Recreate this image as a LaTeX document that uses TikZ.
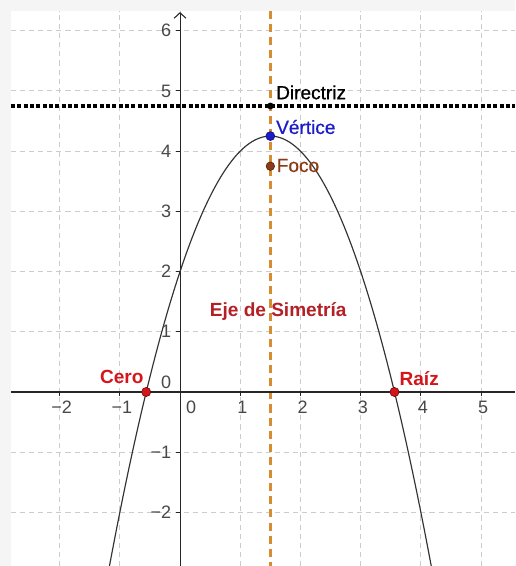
\documentclass[tikz,border=0pt]{standalone}
\usepackage{fontspec}
\setmainfont{Liberation Sans}
\newfontfamily\medfont[FakeBold=0.6]{Liberation Sans}
\usetikzlibrary{arrows.meta}
\definecolor{ejecolor}{RGB}{214,140,50}
\definecolor{vertcolor}{RGB}{28,28,200}
\definecolor{fococolor}{RGB}{140,60,20}
\definecolor{cerocolor}{RGB}{212,22,28}
\definecolor{etiqcolor}{RGB}{180,32,38}
\definecolor{numcolor}{RGB}{72,72,72}

\begin{document}
\begin{tikzpicture}[
    rejilla/.style={draw=gray!40,line width=0.45pt,dash pattern=on 2.4pt off 1.9pt},
    punto/.style={circle,fill,inner sep=0pt,minimum size=#1},
    numero/.style={text=numcolor,font=\fontsize{8.5}{10}\selectfont,inner sep=0pt},
    etiqueta/.style={font=\fontsize{9}{11}\selectfont\medfont,inner sep=0pt}
  ]
    \useasboundingbox[fill=gray!8] (-2.99,-2.89) rectangle (5.57,6.51);
    \fill[white] (-2.81,-2.89) rectangle (5.57,6.33);
    \begin{scope}
      \clip (-2.81,-2.89) rectangle (5.57,6.33);
      \foreach \x in {-2,...,5}
        \draw[rejilla] (\x,-2.89) -- (\x,6.33);
      \foreach \y in {-2,...,6}
        \draw[rejilla] (-2.81,\y) -- (5.57,\y);
      \draw[black,line width=1.9pt,dash pattern=on 1.9pt off 1.1pt] (-2.81,4.75) -- (5.57,4.75);
      \draw[ejecolor,line width=1.3pt,dash pattern=on 3.8pt off 2.4pt] (1.5,6.33) -- (1.5,-2.89);
      \draw[black!85,line width=0.5pt] (-2.81,0) -- (5.57,0);
      \draw[black!85,line width=0.5pt,-{Straight Barb[length=2.6pt,width=5.6pt]}] (0,-2.89) -- (0,6.31);
      \draw[black!80,line width=0.55pt] plot[domain=-1.3:4.3,samples=120,smooth] (\x,{4.25-(\x-1.5)^2});
    \end{scope}
    \foreach \x in {-2,-1,1,2,3,4,5} {
      \draw[black!85,line width=0.5pt] (\x,0) -- (\x,-0.07);
      \node[numero,anchor=base] (nx\x) at (\x+0.035,-0.365) {\ifnum\x<0 −\the\numexpr-\x\relax\else\x\fi};
    }
    \foreach \y in {-2,-1,1,2,3,4,5,6} {
      \draw[black!85,line width=0.5pt] (0,\y) -- (-0.07,\y);
      \node[numero,anchor=base east] (ny\y) at (-0.14,\y-0.103) {\ifnum\y<0 −\the\numexpr-\y\relax\else\y\fi};
    }
    \node[numero,anchor=base] (nx0) at (0.185,-0.365) {0};
    \node[numero,anchor=base east] (ny0) at (-0.14,0.05) {0};
    \node[punto=3.2pt,fill=black] (directriz) at (1.5,4.75) {};
    \node[punto=4.2pt,fill=vertcolor,draw=vertcolor!60!black,line width=0.3pt] (vertice) at (1.5,4.25) {};
    \node[punto=4.0pt,fill=fococolor,draw=fococolor!60!black,line width=0.3pt] (foco) at (1.5,3.75) {};
    \node[punto=4.3pt,fill=cerocolor,draw=cerocolor!50!black,line width=0.3pt] (cero) at (-0.5616,0) {};
    \node[punto=4.3pt,fill=cerocolor,draw=cerocolor!50!black,line width=0.3pt] (raiz) at (3.5616,0) {};
    \node[etiqueta,anchor=base west] (tdirectriz) at (1.59,4.862) {Directriz};
    \node[etiqueta,anchor=base west,text=vertcolor] (tvertice) at (1.59,4.286) {Vértice};
    \node[etiqueta,anchor=base west,text=fococolor] (tfoco) at (1.60,3.654) {Foco};
    \node[etiqueta,anchor=base,text=etiqcolor,font=\fontsize{9}{11}\selectfont\bfseries] (teje) at (1.63,1.251) {Eje de Simetría};
    \node[etiqueta,anchor=base east,text=cerocolor,font=\fontsize{9}{11}\selectfont\bfseries] (tcero) at (-0.60,0.144) {Cero};
    \node[etiqueta,anchor=base west,text=cerocolor,font=\fontsize{9}{11}\selectfont\bfseries] (traiz) at (3.64,0.116) {Raíz};
  \end{tikzpicture}
\end{document}
